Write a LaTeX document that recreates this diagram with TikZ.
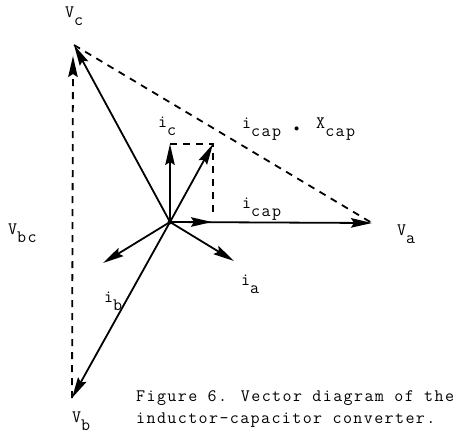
\documentclass[tikz,border=0pt]{standalone}
\usepackage{fontspec}
\newfontfamily\twfont{Latin Modern Mono}[LetterSpace=8]
\usetikzlibrary{arrows.meta}
\newcommand\sbs[1]{\raisebox{-8pt}{#1}}
\begin{document}
\begin{tikzpicture}[x=1pt,y=-1pt,
  tip/.tip={Stealth[length=21pt,width=9.5pt,inset=3pt]},
  vec/.style={line width=1.8pt,-tip},
  dsh/.style={line width=1.8pt,dash pattern=on 7pt off 6pt},
  lbl/.style={anchor=base west,inner sep=0pt,font=\fontsize{17.5pt}{22pt}\twfont}]
\useasboundingbox (0,0) rectangle (462,440);
\coordinate (O) at (170,222);
\coordinate (Vc) at (74,45);
\coordinate (Va) at (372,223);
\coordinate (Vb) at (72,398);
\coordinate (Ic) at (170,144);
\coordinate (S) at (213,144);
\coordinate (Icap) at (212,222);
\coordinate (Sd) at (213,216);
\coordinate (Ib) at (103,263);
\coordinate (Ia) at (234,261);
\coordinate (Vbt) at (73,56);
% dashed construction lines
\draw[dsh] (Vc) -- (Va);
\draw[dsh] (Ic) -- (S) -- (Sd);
\draw[dsh,-tip] (Vb) -- (Vbt);
% vectors
\draw[vec] (O) -- (Vc);
\draw[vec] (O) -- (Ic);
\draw[vec] (O) -- (S);
\draw[vec] (O) -- (Va);
\draw[vec] (O) -- (Icap);
\draw[vec] (O) -- (Ib);
\draw[vec] (O) -- (Ia);
\draw[vec] (O) -- (Vb);
\fill (O) circle (2.4pt);
% labels
\node[lbl] (lVc) at (65,17) {V\sbs{c}};
\node[lbl] (lic) at (158,127) {i\sbs{c}};
\node[lbl] (lix) at (242,128) {i\sbs{cap}\hspace{13pt}\raisebox{-3pt}{\scalebox{0.6}{$\bullet$}}\hspace{17pt}X\sbs{cap}};
\node[lbl] (licap) at (242,208) {i\sbs{cap}};
\node[lbl] (lVa) at (397,235) {V\sbs{a}};
\node[lbl] (lVbc) at (8,234) {V\sbs{bc}};
\node[lbl] (lia) at (241,285) {i\sbs{a}};
\node[lbl] (lib) at (104,302) {i\sbs{b}};
\node[lbl] (lVb) at (72,422) {V\sbs{b}};
\node[lbl] (cap1) at (136,401) {Figure 6. Vector diagram of the};
\node[lbl] (cap2) at (136,423) {inductor-capacitor converter.};
\end{tikzpicture}
\end{document}
